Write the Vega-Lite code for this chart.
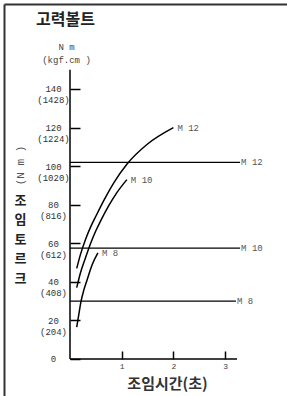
{
  "$schema": "https://vega.github.io/schema/vega-lite/v6.json",
  "width": 283,
  "height": 392,
  "autosize": "none",
  "padding": {"left": 4, "top": 4, "right": 0, "bottom": 0},
  "background": "white",
  "config": {"view": {"stroke": null}, "axis": {"grid": false, "labelOverlap": false, "labelFlush": false}},
  "datasets": {
    "curves": [
      {"series": "M 12", "t": 0.13, "torque": 47},
      {"series": "M 12", "t": 0.2, "torque": 54},
      {"series": "M 12", "t": 0.3, "torque": 62},
      {"series": "M 12", "t": 0.4, "torque": 68.5},
      {"series": "M 12", "t": 0.5, "torque": 74},
      {"series": "M 12", "t": 0.65, "torque": 82},
      {"series": "M 12", "t": 0.85, "torque": 91.5},
      {"series": "M 12", "t": 1.1, "torque": 101},
      {"series": "M 12", "t": 1.5, "torque": 111.5},
      {"series": "M 12", "t": 2.0, "torque": 120},
      {"series": "M 10", "t": 0.13, "torque": 37},
      {"series": "M 10", "t": 0.2, "torque": 44.5},
      {"series": "M 10", "t": 0.3, "torque": 52.5},
      {"series": "M 10", "t": 0.4, "torque": 60},
      {"series": "M 10", "t": 0.5, "torque": 66.5},
      {"series": "M 10", "t": 0.6, "torque": 72},
      {"series": "M 10", "t": 0.75, "torque": 79.5},
      {"series": "M 10", "t": 0.9, "torque": 86},
      {"series": "M 10", "t": 1.1, "torque": 93},
      {"series": "M 8", "t": 0.13, "torque": 16.5},
      {"series": "M 8", "t": 0.17, "torque": 23},
      {"series": "M 8", "t": 0.21, "torque": 29.5},
      {"series": "M 8", "t": 0.27, "torque": 36},
      {"series": "M 8", "t": 0.33, "torque": 41},
      {"series": "M 8", "t": 0.43, "torque": 49},
      {"series": "M 8", "t": 0.54, "torque": 55}
    ],
    "bolts": [
      {"series": "M 12", "level": 102, "tStart": 0, "tEnd": 3.29},
      {"series": "M 10", "level": 57.5, "tStart": 0, "tEnd": 3.29},
      {"series": "M 8", "level": 30, "tStart": 0, "tEnd": 3.21}
    ],
    "torqueAxis": [{"t": 0, "from": 0, "to": 150}],
    "timeAxis": [{"torque": 0, "from": 0, "to": 3.23}]
  },
  "resolve": {"axis": {"x": "independent", "y": "independent"}},
  "layer": [
    {
      "data": {"name": "torqueAxis"},
      "mark": {"type": "rule", "color": "#000", "strokeWidth": 1.5},
      "encoding": {
        "x": {"field": "t", "type": "quantitative",
          "scale": {"domain": [-1.2766, 4.1973], "nice": false, "zero": false},
          "axis": {"orient": "top", "offset": 0, "domain": true, "domainColor": "#333", "domainWidth": 2, "ticks": false, "labels": false,
            "title": "고력볼트", "titleX": 61, "titleY": 15, "titleAlign": "center", "titleBaseline": "middle",
            "titleFont": "Noto Sans CJK KR", "titleFontSize": 16, "titleFontWeight": "bold", "titleColor": "#222"}},
        "y": {"field": "from", "type": "quantitative",
          "scale": {"domain": [-19.185, 184.07], "nice": false, "zero": false},
          "axis": {"orient": "left", "offset": 0, "domain": true, "domainColor": "#333", "domainWidth": 2, "ticks": false, "labels": false,
            "title": "(N m )", "titleX": 16, "titleY": 161, "titleAngle": 270, "titleAlign": "center", "titleBaseline": "middle",
            "titleFont": "Liberation Mono", "titleFontSize": 11, "titleFontWeight": "normal", "titleColor": "#555"}},
        "y2": {"field": "to"}
      }
    },
    {
      "data": {"name": "timeAxis"},
      "mark": {"type": "rule", "color": "#000", "strokeWidth": 1.5},
      "encoding": {
        "x": {"field": "from", "type": "quantitative",
          "scale": {"domain": [-1.2766, 4.1973], "nice": false, "zero": false},
          "axis": {"orient": "top", "offset": 0, "domain": false, "ticks": false, "labels": false,
            "title": ["N m", "(kgf.cm )"], "titleX": 62, "titleY": 42, "titleAlign": "center", "titleBaseline": "middle", "titleLineHeight": 13.5,
            "titleFont": "Liberation Mono", "titleFontSize": 9, "titleFontWeight": "normal", "titleColor": "#444"}},
        "x2": {"field": "to"},
        "y": {"field": "torque", "type": "quantitative",
          "scale": {"domain": [-19.185, 184.07], "nice": false, "zero": false},
          "axis": {"orient": "left", "offset": 0, "domain": false, "ticks": false, "labels": false,
            "title": ["조", "임", "토", "르", "크"], "titleX": 16, "titleY": 190, "titleAngle": 0, "titleAlign": "center", "titleBaseline": "top", "titleLineHeight": 19.5,
            "titleFont": "Noto Sans CJK KR", "titleFontSize": 13, "titleFontWeight": "bold", "titleColor": "#222"}}
      }
    },
    {
      "data": {"name": "curves"},
      "mark": {"type": "line", "color": "#000", "strokeWidth": 1.5, "interpolate": "monotone"},
      "encoding": {
        "x": {"field": "t", "type": "quantitative",
          "scale": {"domain": [-1.2766, 4.1973], "nice": false, "zero": false},
          "axis": {"orient": "bottom", "offset": -37, "values": [1, 2, 3], "domain": false, "ticks": true, "tickSize": -8, "tickColor": "#000", "tickWidth": 1.5,
            "labelPadding": 11, "labelFont": "Liberation Mono", "labelFontSize": 8, "labelColor": "#444",
            "title": "조임시간(초)", "titleX": 163, "titleY": 24, "titleAlign": "center", "titleBaseline": "middle",
            "titleFont": "Noto Sans CJK KR", "titleFontSize": 15, "titleFontWeight": "bold", "titleColor": "#333"}},
        "y": {"field": "torque", "type": "quantitative",
          "scale": {"domain": [-19.185, 184.07], "nice": false, "zero": false},
          "axis": {"orient": "left", "offset": -66, "values": [0, 20, 40, 60, 80, 100, 120, 140], "domain": false, "ticks": true, "tickSize": -10, "tickColor": "#000", "tickWidth": 1.5,
            "labelPadding": 27, "labelAlign": "center", "labelBaseline": "middle", "labelLineHeight": 11,
            "labelFont": "Liberation Mono", "labelFontSize": 9, "labelColor": "#333",
            "labelExpr": "datum.value == 0 ? '\u00a0\u00a0\u00a0\u00a00' : [datum.label, '(' + round(datum.value * 10.2) + ')']",
            "title": null}},
        "detail": {"field": "series", "type": "nominal"}
      }
    },
    {
      "data": {"name": "curves"},
      "transform": [
        {"joinaggregate": [{"op": "max", "field": "t", "as": "tmax"}], "groupby": ["series"]},
        {"filter": "datum.t == datum.tmax"}
      ],
      "mark": {"type": "text", "align": "left", "baseline": "middle", "dx": 4, "font": "Liberation Mono", "fontSize": 9, "color": "#555"},
      "encoding": {
        "x": {"field": "t", "type": "quantitative", "scale": {"domain": [-1.2766, 4.1973], "nice": false, "zero": false}, "axis": null},
        "y": {"field": "torque", "type": "quantitative", "scale": {"domain": [-19.185, 184.07], "nice": false, "zero": false}, "axis": null},
        "text": {"field": "series", "type": "nominal"}
      }
    },
    {
      "data": {"name": "bolts"},
      "mark": {"type": "rule", "color": "#000", "strokeWidth": 1.2},
      "encoding": {
        "x": {"field": "tStart", "type": "quantitative", "scale": {"domain": [-1.2766, 4.1973], "nice": false, "zero": false}, "axis": null},
        "x2": {"field": "tEnd"},
        "y": {"field": "level", "type": "quantitative", "scale": {"domain": [-19.185, 184.07], "nice": false, "zero": false}, "axis": null}
      }
    },
    {
      "data": {"name": "bolts"},
      "mark": {"type": "text", "align": "left", "baseline": "middle", "dx": 1, "font": "Liberation Mono", "fontSize": 9, "color": "#555"},
      "encoding": {
        "x": {"field": "tEnd", "type": "quantitative", "scale": {"domain": [-1.2766, 4.1973], "nice": false, "zero": false}, "axis": null},
        "y": {"field": "level", "type": "quantitative", "scale": {"domain": [-19.185, 184.07], "nice": false, "zero": false}, "axis": null},
        "text": {"field": "series", "type": "nominal"}
      }
    }
  ]
}
